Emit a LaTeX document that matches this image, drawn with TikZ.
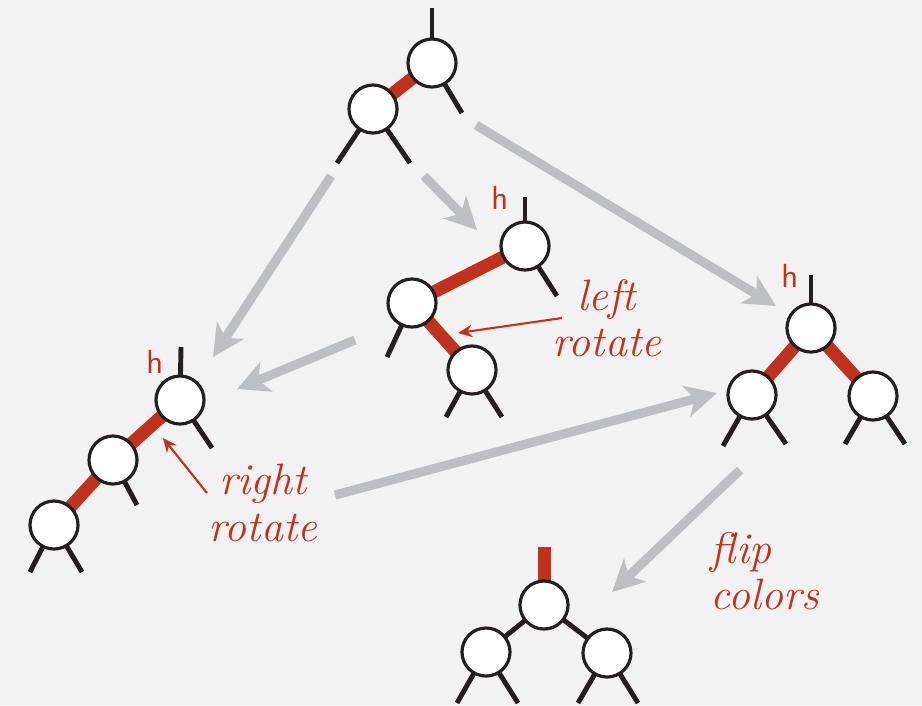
\documentclass[tikz,border=0pt]{standalone}
\usetikzlibrary{arrows.meta}

\definecolor{linkred}{RGB}{192,49,30}
\definecolor{movegray}{RGB}{190,191,193}
\definecolor{paper}{RGB}{242,242,242}
\definecolor{ink}{RGB}{35,31,32}

\pgfdeclarelayer{paperlayer}
\pgfdeclarelayer{links}
\pgfsetlayers{paperlayer,links,main}

\begin{document}
\begin{tikzpicture}[x=0.01cm,y=-0.01cm,
    key/.style={circle,draw=ink,line width=0.9pt,fill=white,minimum size=0.48cm,inner sep=0pt},
    blacklink/.style={ink,line width=1.4pt},
    redlink/.style={linkred,line width=3.7pt},
    move/.style={movegray,line width=2.6pt,-{Stealth[length=9pt,width=9pt,inset=2.5pt]}},
    pointer/.style={linkred,line width=0.6pt,-{Stealth[length=4pt,width=3.5pt]}},
    hlabel/.style={linkred,font=\sffamily\fontsize{9.5}{10}\selectfont},
    note/.style={linkred,font=\fontsize{12.5}{13.2}\selectfont\itshape,inner sep=0pt}]

\begin{pgfonlayer}{paperlayer}
\fill[paper] (0,0) rectangle (922,705);
\end{pgfonlayer}
\useasboundingbox (0,0) rectangle (922,705);

% draw top tree
\node[key] (t1) at (432,63) {};
\node[key] (t2) at (373,109) {};
\coordinate (t1u) at (432,8);
\coordinate (t1r) at (462,113);
\coordinate (t2l) at (337,163);
\coordinate (t2r) at (410,163);
\begin{pgfonlayer}{links}
\draw[blacklink] (t1.center) -- (t1u);
\draw[blacklink] (t1.center) -- (t1r);
\draw[blacklink] (t2.center) -- (t2l);
\draw[blacklink] (t2.center) -- (t2r);
\draw[redlink] (t1.center) -- (t2.center);
\end{pgfonlayer}

% draw middle tree (before left rotate)
\node[key] (m1) at (525,246) {};
\node[key] (m2) at (412,303) {};
\node[key] (m3) at (472,370) {};
\coordinate (m1u) at (525,197);
\coordinate (m1r) at (557,296);
\coordinate (m2l) at (387,357);
\coordinate (m3l) at (446,417);
\coordinate (m3r) at (502,417);
\begin{pgfonlayer}{links}
\draw[blacklink] (m1.center) -- (m1u);
\draw[blacklink] (m1.center) -- (m1r);
\draw[blacklink] (m2.center) -- (m2l);
\draw[blacklink] (m3.center) -- (m3l);
\draw[blacklink] (m3.center) -- (m3r);
\draw[redlink] (m1.center) -- (m2.center);
\draw[redlink] (m2.center) -- (m3.center);
\end{pgfonlayer}
\node[hlabel] (mh) at (500,198) {h};
\node[note,align=center] (leftrot) at (607,318) {left\\rotate};
\coordinate (lrfrom) at (562,318);
\coordinate (lrto) at (458,333);
\draw[pointer] (lrfrom) -- (lrto);

% draw left tree (before right rotate)
\node[key] (l1) at (180,400) {};
\node[key] (l2) at (113,460) {};
\node[key] (l3) at (54,525) {};
\coordinate (l1u) at (181,347);
\coordinate (l1r) at (212,448);
\coordinate (l2r) at (137,505);
\coordinate (l3l) at (30,572);
\coordinate (l3r) at (82,572);
\begin{pgfonlayer}{links}
\draw[blacklink] (l1.center) -- (l1u);
\draw[blacklink] (l1.center) -- (l1r);
\draw[blacklink] (l2.center) -- (l2r);
\draw[blacklink] (l3.center) -- (l3l);
\draw[blacklink] (l3.center) -- (l3r);
\draw[redlink] (l1.center) -- (l2.center);
\draw[redlink] (l2.center) -- (l3.center);
\end{pgfonlayer}
\node[hlabel] (lh) at (155,362) {h};
\node[note,align=center] (rightrot) at (263,503) {right\\rotate};
\coordinate (rrfrom) at (207,493);
\coordinate (rrto) at (163,438);
\draw[pointer] (rrfrom) -- (rrto);

% draw right tree (before flip colors)
\node[key] (r1) at (811,328) {};
\node[key] (r2) at (752,395) {};
\node[key] (r3) at (873,396) {};
\coordinate (r1u) at (811,275);
\coordinate (r2l) at (723,446);
\coordinate (r2r) at (786,444);
\coordinate (r3l) at (845,444);
\coordinate (r3r) at (905,444);
\begin{pgfonlayer}{links}
\draw[blacklink] (r1.center) -- (r1u);
\draw[blacklink] (r2.center) -- (r2l);
\draw[blacklink] (r2.center) -- (r2r);
\draw[blacklink] (r3.center) -- (r3l);
\draw[blacklink] (r3.center) -- (r3r);
\draw[redlink] (r1.center) -- (r2.center);
\draw[redlink] (r1.center) -- (r3.center);
\end{pgfonlayer}
\node[hlabel] (rh) at (790,276) {h};

% draw bottom tree (after flip colors)
\node[key] (b1) at (544,605) {};
\node[key] (b2) at (486,652) {};
\node[key] (b3) at (607,653) {};
\coordinate (b1u) at (544,547);
\coordinate (b2l) at (457,703);
\coordinate (b2r) at (518,703);
\coordinate (b3l) at (578,703);
\coordinate (b3r) at (638,703);
\begin{pgfonlayer}{links}
\draw[redlink] (b1.center) -- (b1u);
\draw[blacklink] (b1.center) -- (b2.center);
\draw[blacklink] (b1.center) -- (b3.center);
\draw[blacklink] (b2.center) -- (b2l);
\draw[blacklink] (b2.center) -- (b2r);
\draw[blacklink] (b3.center) -- (b3l);
\draw[blacklink] (b3.center) -- (b3r);
\end{pgfonlayer}
\node[note,align=left] (flipcol) at (765,571) {flip\\colors};

% draw gray moves
\coordinate (a1s) at (331,176);  \coordinate (a1e) at (213,357);
\coordinate (a2s) at (424,176);  \coordinate (a2e) at (477,230);
\coordinate (a3s) at (476,125);  \coordinate (a3e) at (776,306);
\coordinate (a4s) at (355,340);  \coordinate (a4e) at (237,389);
\coordinate (a5s) at (335,495);  \coordinate (a5e) at (717,393);
\coordinate (a6s) at (740,470);  \coordinate (a6e) at (612,592);
\draw[move] (a1s) -- (a1e);
\draw[move] (a2s) -- (a2e);
\draw[move] (a3s) -- (a3e);
\draw[move] (a4s) -- (a4e);
\draw[move] (a5s) -- (a5e);
\draw[move] (a6s) -- (a6e);

\end{tikzpicture}
\end{document}
